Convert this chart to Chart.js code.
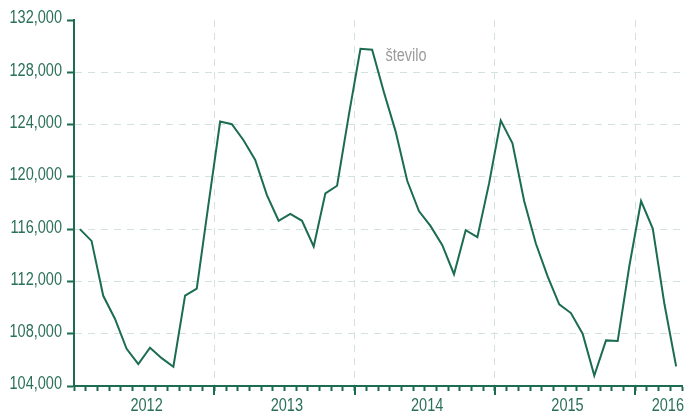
<!DOCTYPE html>
<html>
<head>
<meta charset="utf-8">
<script src="https://cdn.jsdelivr.net/npm/chart.js@4"></script>
<style>
  html, body { margin: 0; padding: 0; background: #fff; }
  #wrap { width: 686px; height: 412px; position: relative; }
</style>
</head>
<body>
<div id="wrap"><canvas id="chart"></canvas></div>
<script>
// mesečni podatki, jan 2012 - apr 2016
const months = [
  '2012-01','2012-02','2012-03','2012-04','2012-05','2012-06','2012-07','2012-08','2012-09','2012-10','2012-11','2012-12',
  '2013-01','2013-02','2013-03','2013-04','2013-05','2013-06','2013-07','2013-08','2013-09','2013-10','2013-11','2013-12',
  '2014-01','2014-02','2014-03','2014-04','2014-05','2014-06','2014-07','2014-08','2014-09','2014-10','2014-11','2014-12',
  '2015-01','2015-02','2015-03','2015-04','2015-05','2015-06','2015-07','2015-08','2015-09','2015-10','2015-11','2015-12',
  '2016-01','2016-02','2016-03','2016-04'
];
const values = [
  116000, 115100, 110900, 109150, 106850, 105670, 106930, 106130, 105470, 110920, 111450, 117900,
  124230, 124030, 122800, 121290, 118600, 116640, 117170, 116640, 114670, 118740, 119320, 124700,
  129800, 129720, 126500, 123500, 119700, 117380, 116230, 114770, 112550, 115920, 115390, 119500,
  124300, 122570, 118150, 114900, 112400, 110250, 109580, 108000, 104800, 107490, 107440, 113200,
  118150, 116050, 110250, 105500
];
const years = ['2012', '2013', '2014', '2015', '2016'];
const yTicks = [104000, 108000, 112000, 116000, 120000, 124000, 128000, 132000];
const seriesLabel = 'število';

const green = '#1b6c50';
const textGreen = '#2b7058';
const gridColor = '#d3e2dc';
const labelFont = "17.5px 'Liberation Sans', Arial, sans-serif";
const squeeze = 0.83; // ozka pisava (condensed)

const yearStarts = years.map(y => months.indexOf(y + '-01'));

// ozko besedilo: vodoravno stisnjeno
function narrowText(ctx, text, x, y, align) {
  ctx.save();
  ctx.translate(x, y);
  ctx.scale(squeeze, 1);
  ctx.textAlign = align;
  ctx.textBaseline = 'alphabetic';
  ctx.fillText(text, 0, 0);
  ctx.restore();
}

const decorations = {
  id: 'decorations',
  afterDatasetsDraw(chart) {
    const { ctx, scales: { x, y }, chartArea } = chart;
    ctx.save();
    // daljše oznake na mejah let
    ctx.strokeStyle = green;
    ctx.lineWidth = 2;
    yearStarts.forEach(v => {
      if (v <= 0) return;
      const px = Math.round(x.getPixelForValue(v));
      ctx.beginPath();
      ctx.moveTo(px, chartArea.bottom);
      ctx.lineTo(px, chartArea.bottom + 9);
      ctx.stroke();
    });

    ctx.font = labelFont;
    ctx.fillStyle = textGreen;
    // oznake na osi y
    yTicks.forEach(v => {
      narrowText(ctx, v.toLocaleString('en-US'), chartArea.left - 12, y.getPixelForValue(v) + 3.4, 'right');
    });
    // leta na osi x
    years.forEach((yr, i) => {
      const w = ctx.measureText(yr).width * squeeze;
      let cx = x.getPixelForValue(yearStarts[i] + 6) + 2.4;
      cx = Math.min(cx, chart.width - 2 - w / 2);
      narrowText(ctx, yr, cx, chartArea.bottom + 24.5, 'center');
    });

    // oznaka serije ob vrhu
    const meta = chart.getDatasetMeta(0);
    const iMax = values.indexOf(Math.max(...values));
    const pt = meta.data[iMax];
    ctx.fillStyle = '#9b9b9b';
    narrowText(ctx, seriesLabel, pt.x + 25, pt.y + 12, 'left');
    ctx.restore();
  }
};

new Chart(document.getElementById('chart'), {
  type: 'line',
  data: {
    datasets: [{
      label: seriesLabel,
      data: values.map((v, i) => ({ x: i + 0.5, y: v })),
      borderColor: green,
      borderWidth: 2,
      pointRadius: 0,
      tension: 0,
      fill: false
    }]
  },
  options: {
    responsive: true,
    maintainAspectRatio: false,
    animation: false,
    layout: { padding: { top: 20, right: 4, left: 0, bottom: 0 } },
    plugins: { legend: { display: false }, tooltip: { enabled: false } },
    scales: {
      x: {
        type: 'linear',
        min: 0,
        max: months.length,
        afterBuildTicks: scale => {
          const t = months.map((m, i) => ({ value: i }));
          t.push({ value: months.length });
          scale.ticks = t;
        },
        afterFit: scale => { scale.height = 26; },
        ticks: { display: false },
        grid: {
          drawTicks: true,
          tickLength: 5,
          tickWidth: 2,
          color: c => (c.tick && yearStarts.includes(c.tick.value) && c.tick.value > 0) ? gridColor : 'transparent',
          tickColor: green
        },
        border: { display: true, color: green, width: 2, dash: [7, 6] }
      },
      y: {
        min: yTicks[0],
        max: yTicks[yTicks.length - 1],
        afterBuildTicks: scale => { scale.ticks = yTicks.map(v => ({ value: v })); },
        afterFit: scale => { scale.width = 74; },
        ticks: { display: false },
        grid: {
          drawTicks: true,
          tickLength: 7,
          tickWidth: 2,
          tickColor: green,
          color: c => (c.tick && c.tick.value > yTicks[0] && c.tick.value < yTicks[yTicks.length - 1]) ? gridColor : 'transparent'
        },
        border: { display: true, color: green, width: 2, dash: [7, 6] }
      }
    }
  },
  plugins: [decorations]
});
</script>
</body>
</html>
